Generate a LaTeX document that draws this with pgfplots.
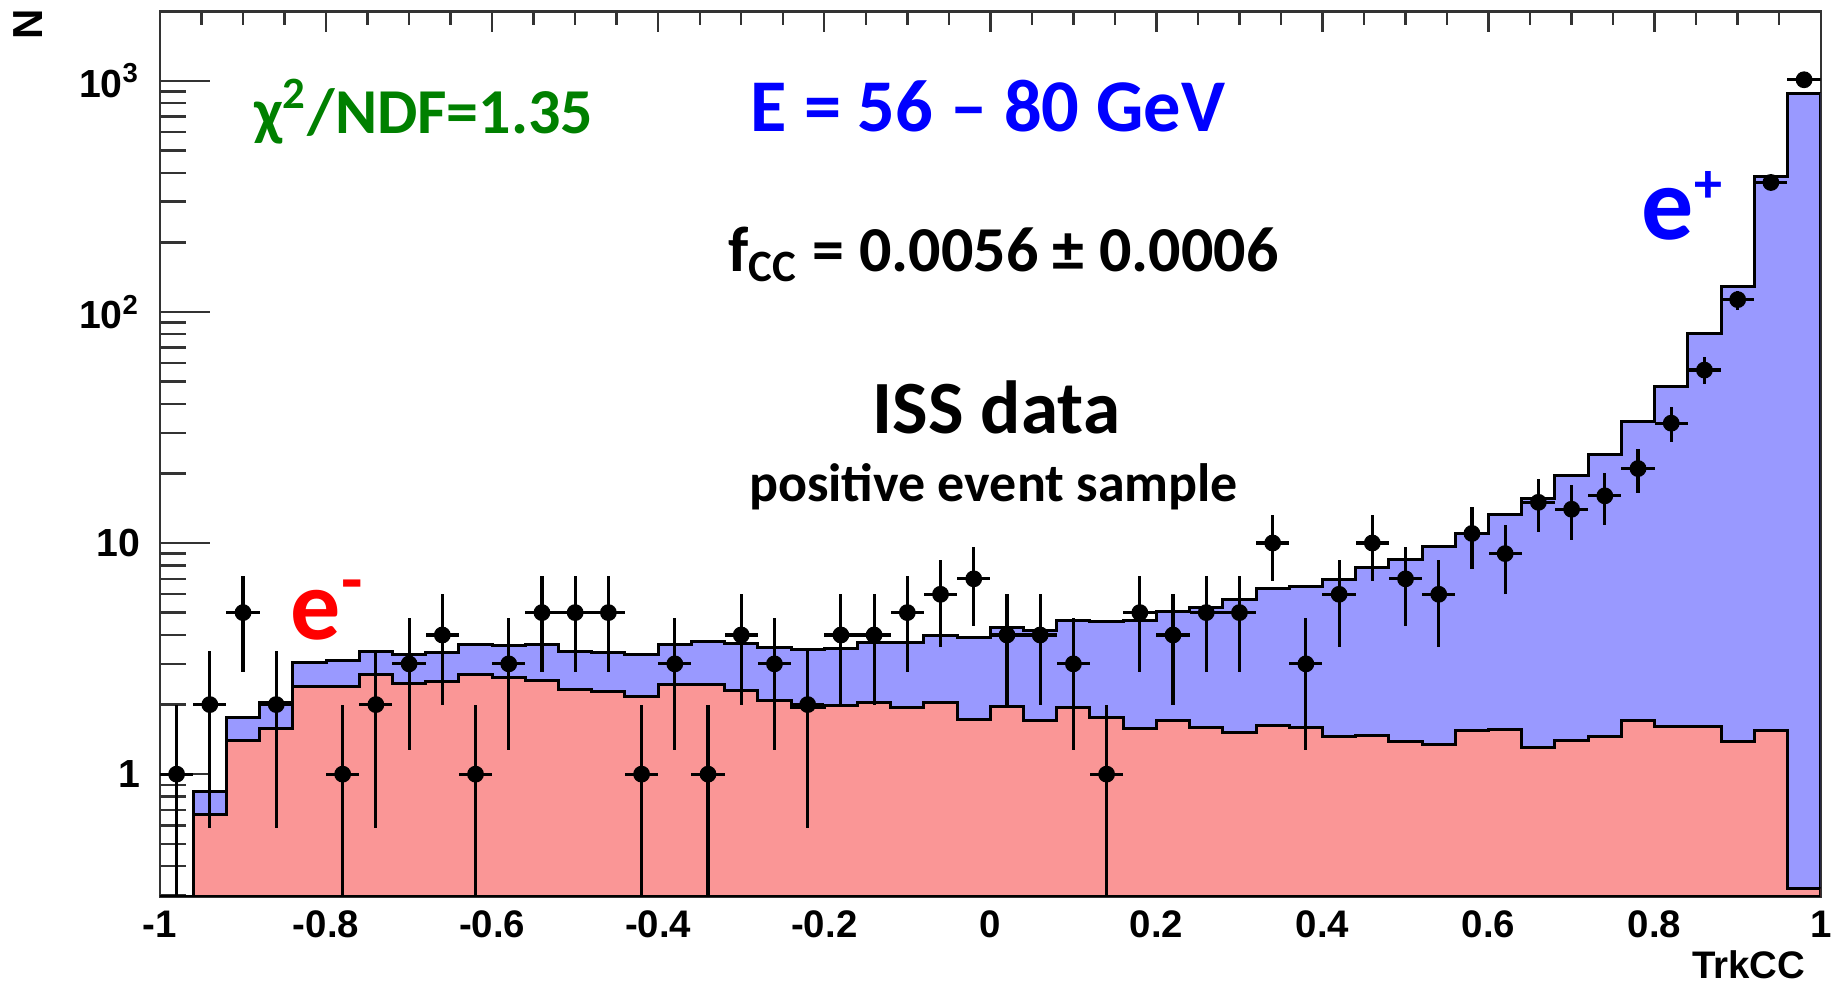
\documentclass[border=0pt]{standalone}
\usepackage{fontspec}
\setmainfont{Carlito}
\newfontfamily\helv{Liberation Sans}
\usepackage{pgfplots}
\pgfplotsset{compat=1.18}

\definecolor{posfill}{RGB}{153,153,255}
\definecolor{elefill}{RGB}{250,150,150}
\definecolor{chigreen}{RGB}{0,128,0}
\definecolor{eblue}{RGB}{0,0,255}
\definecolor{ered}{RGB}{255,0,0}

\pgfplotsset{
  histframe/.style={
    at={(0,0)}, anchor=south west, scale only axis,
    width=415.175pt, height=221.25pt,
    xmin=-1, xmax=1,
    tick align=inside,
    axis line style={black!80, line width=0.6pt},
    every tick/.style={black!80, line width=0.6pt},
  }
}

\begin{document}
\begin{tikzpicture}
% TrkCC ticks (top and bottom) with their labels
\begin{axis}[histframe, ymin=0, ymax=1, ytick=\empty,
  xtick={-1,-0.8,-0.6,-0.4,-0.2,0,0.2,0.4,0.6,0.8,1},
  xticklabels={-1,-0.8,-0.6,-0.4,-0.2,0,0.2,0.4,0.6,0.8,1},
  minor x tick num=3, xtick pos=both,
  major tick length=5pt, minor tick length=3.3pt,
  xticklabel style={font=\helv\bfseries\fontsize{9.6}{11}\selectfont},
]
\end{axis}
% stacked templates and ISS data
\begin{axis}[histframe, ymode=log, ymin=0.295, ymax=1990, log origin y=infty,
  xtick=\empty,
  ytick={1,10,100,1000},
  yticklabels={1,10,10\textsuperscript{2},10\textsuperscript{3}},
  minor ytick={0.3,0.4,0.5,0.6,0.7,0.8,0.9,2,3,4,5,6,7,8,9,20,30,40,50,60,70,80,90,200,300,400,500,600,700,800,900},
  ytick pos=left,
  major tick length=12.5pt, minor tick length=6.5pt,
  yticklabel style={font=\helv\bfseries\fontsize{9.8}{11}\selectfont, xshift=-1.5pt},
]
% e- + e+ template (total)
\addplot[const plot, fill=posfill, draw=black, line width=0.75pt] table[x=x, y=n] {
x n
-1.00 0.01
-0.96 0.845
-0.92 1.75
-0.88 2.05
-0.84 3.03
-0.80 3.11
-0.76 3.41
-0.72 3.30
-0.68 3.35
-0.64 3.64
-0.60 3.59
-0.56 3.64
-0.52 3.38
-0.48 3.35
-0.44 3.30
-0.40 3.64
-0.36 3.76
-0.32 3.67
-0.28 3.52
-0.24 3.46
-0.20 3.49
-0.16 3.71
-0.12 3.71
-0.08 3.99
-0.04 3.92
0.00 4.29
0.04 4.19
0.08 4.63
0.12 4.56
0.16 4.63
0.20 5.07
0.24 5.24
0.28 5.71
0.32 6.35
0.36 6.46
0.40 6.97
0.44 7.83
0.48 8.47
0.52 9.68
0.56 10.98
0.60 13.27
0.64 15.55
0.68 19.6
0.72 24.2
0.76 33.4
0.80 47.7
0.84 80.9
0.88 129
0.92 385
0.96 883
1.00 883
} \closedcycle;
% e- template
\addplot[const plot, fill=elefill, draw=black, line width=0.75pt] table[x=x, y=n] {
x n
-1.00 0.01
-0.96 0.67
-0.92 1.40
-0.88 1.58
-0.84 2.39
-0.80 2.40
-0.76 2.70
-0.72 2.47
-0.68 2.51
-0.64 2.70
-0.60 2.62
-0.56 2.55
-0.52 2.32
-0.48 2.27
-0.44 2.16
-0.40 2.44
-0.36 2.45
-0.32 2.29
-0.28 2.09
-0.24 1.95
-0.20 1.99
-0.16 2.05
-0.12 1.94
-0.08 2.05
-0.04 1.72
0.00 1.97
0.04 1.70
0.08 1.94
0.12 1.75
0.16 1.58
0.20 1.71
0.24 1.59
0.28 1.52
0.32 1.63
0.36 1.59
0.40 1.46
0.44 1.47
0.48 1.38
0.52 1.35
0.56 1.55
0.60 1.56
0.64 1.31
0.68 1.40
0.72 1.46
0.76 1.70
0.80 1.60
0.84 1.60
0.88 1.38
0.92 1.54
0.96 0.32
1.00 0.32
} \closedcycle;
% ISS data, Poisson errors
\addplot[black, only marks, mark=*, mark size=1.9pt,
  error bars/.cd, x dir=both, x fixed=0.02, y dir=both, y explicit,
  error mark=none, error bar style={line width=0.8pt}]
  table[x=x, y=n, y error plus=ep, y error minus=em] {
x n ep em
-0.98 1 1 0.99
-0.94 2 1.414 1.414
-0.90 5 2.236 2.236
-0.86 2 1.414 1.414
-0.78 1 1 0.99
-0.74 2 1.414 1.414
-0.70 3 1.732 1.732
-0.66 4 2 2
-0.62 1 1 0.99
-0.58 3 1.732 1.732
-0.54 5 2.236 2.236
-0.50 5 2.236 2.236
-0.46 5 2.236 2.236
-0.42 1 1 0.99
-0.38 3 1.732 1.732
-0.34 1 1 0.99
-0.30 4 2 2
-0.26 3 1.732 1.732
-0.22 2 1.414 1.414
-0.18 4 2 2
-0.14 4 2 2
-0.10 5 2.236 2.236
-0.06 6 2.449 2.449
-0.02 7 2.646 2.646
0.02 4 2 2
0.06 4 2 2
0.10 3 1.732 1.732
0.14 1 1 0.99
0.18 5 2.236 2.236
0.22 4 2 2
0.26 5 2.236 2.236
0.30 5 2.236 2.236
0.34 10 3.162 3.162
0.38 3 1.732 1.732
0.42 6 2.449 2.449
0.46 10 3.162 3.162
0.50 7 2.646 2.646
0.54 6 2.449 2.449
0.58 11 3.317 3.317
0.62 9 3 3
0.66 15 3.873 3.873
0.70 14 3.742 3.742
0.74 16 4 4
0.78 21 4.583 4.583
0.82 33 5.745 5.745
0.86 56 7.483 7.483
0.90 113 10.63 10.63
0.94 363 19.05 19.05
0.98 1010 31.78 31.78
};
\end{axis}

% axis titles
\node[rotate=90, inner sep=0, font=\helv\bfseries\fontsize{10.5}{12}\selectfont] at (-33pt,218.2pt) {N};
\node[anchor=east, inner sep=0, font=\helv\bfseries\fontsize{9.6}{11}\selectfont] at (411.5pt,-17.1pt) {TrkCC};

% annotations
\begin{scope}[every node/.style={inner sep=0, anchor=base}]
\node[text=chigreen, font=\bfseries\fontsize{16}{20}\selectfont] at (65.9pt,190.9pt) {χ\textsuperscript{2}/NDF=1.35};
\node[text=eblue, font=\bfseries\fontsize{18.6}{20}\selectfont] at (207pt,191.4pt) {E = 56 – 80 GeV};
\node[text=black, font=\bfseries\fontsize{16}{20}\selectfont] at (210.9pt,156.4pt) {f\textsubscript{CC} = 0.0056 ± 0.0006};
\node[text=black, font=\bfseries\fontsize{18.8}{20}\selectfont] at (209.1pt,115.9pt) {ISS data};
\node[text=black, font=\bfseries\fontsize{13.5}{16}\selectfont] at (208.4pt,98.9pt) {positive event sample};
\node[anchor=base west, text=eblue, font=\bfseries\fontsize{26}{28}\selectfont] at (370.25pt,164.4pt) {e\textsuperscript{\fontsize{14}{14}\selectfont +}};
\node[anchor=base west, text=ered, font=\bfseries\fontsize{25}{28}\selectfont] at (32.5pt,64.2pt) {e\textsuperscript{-}};
\end{scope}

\pgfresetboundingbox
\path[use as bounding box] (-40pt,-22.325pt) rectangle (417.75pt,224.175pt);
\end{tikzpicture}
\end{document}
